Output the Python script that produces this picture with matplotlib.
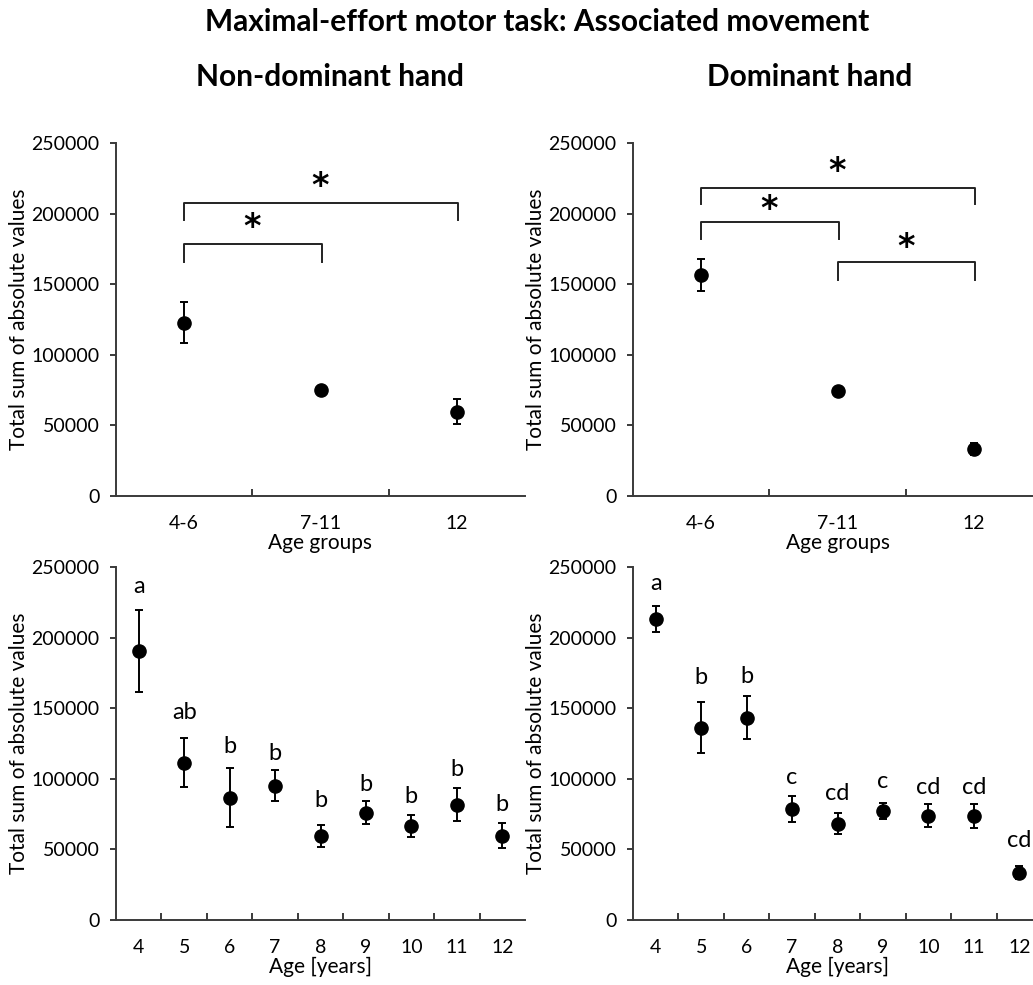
import matplotlib.pyplot as plt
import numpy as np

plt.rcParams['font.family'] = ['Lato', 'DejaVu Sans']

# Age groups (top row)
groups = ['4-6', '7-11', '12']
nd_group_mean = [122700, 75100, 59700]
nd_group_err = [14500, 2500, 8800]
dom_group_mean = [156300, 74600, 33300]
dom_group_err = [11200, 2000, 4500]

# significance brackets: (from, to, leg bottom, bar top, star y)
nd_brackets = [(0, 1, 165800, 178500, 190000),
               (0, 2, 195500, 207500, 219000)]
dom_brackets = [(0, 2, 207000, 218000, 229500),
                (0, 1, 182000, 194000, 203000),
                (1, 2, 153000, 165700, 176000)]

# Single years (bottom row)
ages = [4, 5, 6, 7, 8, 9, 10, 11, 12]
nd_age_mean = [190700, 111500, 86700, 95000, 59500, 75900, 66600, 81500, 59800]
nd_age_err = [29000, 17500, 21000, 11000, 7500, 8200, 7500, 11700, 8600]
nd_letters = ['a', 'ab', 'b', 'b', 'b', 'b', 'b', 'b', 'b']
nd_letter_y = [231600, 142200, 118600, 113400, 80300, 91700, 82700, 102300, 77500]

dom_age_mean = [213400, 136300, 143400, 78900, 68100, 77300, 74000, 73700, 33600]
dom_age_err = [9200, 18300, 15300, 9200, 7400, 5500, 8200, 8200, 4500]
dom_letters = ['a', 'b', 'b', 'c', 'cd', 'c', 'cd', 'cd', 'cd']
dom_letter_y = [233500, 167300, 168200, 96200, 85100, 93800, 89100, 89100, 52000]

axis_col = '#3a3a3a'
fs = 14
label_fs = 15

fig = plt.figure(figsize=(10.33, 9.85), dpi=100)

W = 409 / 1033
H = 353 / 985
ax_tl = fig.add_axes([116 / 1033, 1 - 496 / 985, W, H])
ax_tr = fig.add_axes([633 / 1033, 1 - 496 / 985, W, H])
ax_bl = fig.add_axes([116 / 1033, 1 - 920 / 985, W, H])
ax_br = fig.add_axes([633 / 1033, 1 - 920 / 985, W, H])


def style_axes(ax, n, first):
    ax.set_ylim(0, 250000)
    ax.set_xlim(first - 0.5, first + n - 0.5)
    ax.set_yticks(np.arange(0, 250001, 50000))
    for s in ['top', 'right']:
        ax.spines[s].set_visible(False)
    for s in ['left', 'bottom']:
        ax.spines[s].set_color(axis_col)
        ax.spines[s].set_linewidth(1.4)
    ax.tick_params(axis='y', direction='out', length=4, width=1.4,
                   color=axis_col, labelsize=fs, pad=8)
    ax.tick_params(axis='x', which='major', length=0, labelsize=fs, pad=14)
    ax.set_xticks(np.arange(first + 0.5, first + n - 0.5), minor=True)
    ax.tick_params(axis='x', which='minor', direction='in', length=5,
                   width=1.4, color=axis_col)
    ax.set_ylabel('Total sum of absolute values', fontsize=label_fs)
    ax.yaxis.set_label_coords(-0.212, 0.5)


def draw_points(ax, x, mean, err):
    ax.errorbar(x, mean, yerr=err, fmt='o', color='black', markersize=9.5,
                ecolor='black', elinewidth=1.4, capsize=2.6, capthick=1.4,
                clip_on=False, zorder=3)


for ax, mean, err, brackets in [(ax_tl, nd_group_mean, nd_group_err, nd_brackets),
                                (ax_tr, dom_group_mean, dom_group_err, dom_brackets)]:
    style_axes(ax, len(groups), 0)
    x = np.arange(len(groups))
    draw_points(ax, x, mean, err)
    ax.set_xticks(x)
    ax.set_xticklabels(groups)
    ax.set_xlabel('Age groups', fontsize=label_fs)
    ax.xaxis.set_label_coords(0.5, -0.105)
    for i, j, low, top, sy in brackets:
        ax.plot([x[i], x[i], x[j] + 0.01, x[j] + 0.01], [low, top, top, low],
                color='#222222', lw=1.4)
        ax.text((x[i] + x[j]) / 2, sy, '*', ha='center', va='center',
                fontsize=24, fontweight='bold', family='DejaVu Sans')

for ax, mean, err, letters, ly in [(ax_bl, nd_age_mean, nd_age_err, nd_letters, nd_letter_y),
                                   (ax_br, dom_age_mean, dom_age_err, dom_letters, dom_letter_y)]:
    style_axes(ax, len(ages), ages[0])
    draw_points(ax, ages, mean, err)
    ax.set_xticks(ages)
    ax.set_xticklabels([str(a) for a in ages])
    ax.set_xlabel('Age [years]', fontsize=label_fs)
    ax.xaxis.set_label_coords(0.5, -0.105)
    for a, lab, y in zip(ages, letters, ly):
        ax.text(a, y, lab, ha='center', va='baseline', fontsize=17)

fig.text(537 / 1033, 1 - 22 / 985, 'Maximal-effort motor task: Associated movement',
         ha='center', va='center', fontsize=21.5, fontweight='bold')
fig.text(330 / 1033, 1 - 77 / 985, 'Non-dominant hand',
         ha='center', va='center', fontsize=21.5, fontweight='bold')
fig.text(810 / 1033, 1 - 77 / 985, 'Dominant hand',
         ha='center', va='center', fontsize=21.5, fontweight='bold')

fig.savefig('out.png', dpi=100, facecolor='white')
